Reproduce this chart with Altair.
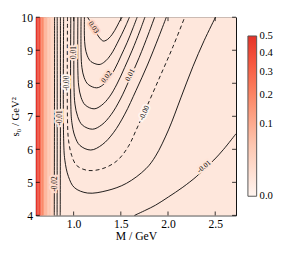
import altair as alt
import pandas as pd

# ---------------- axis ranges / ticks ----------------
M_MIN, M_MAX = 0.6, 2.72
S_MIN, S_MAX = 4.0, 10.0
X_TICKS = [1.0, 1.5, 2.0, 2.5]
Y_TICKS = [4, 5, 6, 7, 8, 9, 10]
# colour-bar ticks 0.0 ... 0.5 (end ticks nudged a hair inside so their labels stay centred)
CBAR_TICKS = [1e-7, 0.1, 0.2, 0.3, 0.4, 0.4999999]
# colour map (white -> red), evenly spaced along the sqrt-normalised value
CMAP = ["#fff5f0", "#fee2d5", "#fdc4ad", "#fca183", "#fb7d5d", "#f6573e", "#e53128"]

# ---------------- contour lines (M [GeV], s0 [GeV^2]) ----------------
L1_M = [0.798, 0.797, 0.795]; L1_S = [10.0, 7.0, 4.0]          # -0.02
L2_M = [0.826, 0.826, 0.825]; L2_S = [10.0, 7.0, 4.0]          # -0.015
L3_M = [0.860, 0.860, 0.858]; L3_S = [10.0, 7.0, 4.0]          # -0.01
U1_M = [1.148, 1.179, 1.210, 1.246, 1.277, 1.313, 1.344, 1.375, 1.406, 1.436, 1.467, 1.493, 1.514]
U1_S = [10.0, 9.853, 9.691, 9.500, 9.368, 9.279, 9.300, 9.368, 9.471, 9.603, 9.765, 9.912, 10.0]
U2_M = [1.114, 1.114, 1.122, 1.145, 1.184, 1.269, 1.317, 1.365, 1.414, 1.462, 1.510, 1.559, 1.591]
U2_S = [10.0, 9.450, 9.097, 8.832, 8.656, 8.568, 8.625, 8.754, 8.954, 9.212, 9.485, 9.785, 10.0]
U3_M = [1.079, 1.079, 1.088, 1.112, 1.154, 1.244, 1.309, 1.373, 1.437, 1.501, 1.566, 1.630, 1.673]
U3_S = [10.0, 8.882, 8.474, 8.168, 7.965, 7.862, 7.947, 8.140, 8.438, 8.824, 9.229, 9.679, 10.0]
U4_M = [1.045, 1.045, 1.054, 1.079, 1.123, 1.217, 1.298, 1.379, 1.459, 1.540, 1.621, 1.702, 1.755]
U4_S = [10.0, 8.374, 7.915, 7.571, 7.341, 7.226, 7.338, 7.588, 7.976, 8.474, 9.003, 9.585, 10.0]
U5_M = [1.004, 1.004, 1.014, 1.043, 1.092, 1.200, 1.299, 1.397, 1.496, 1.595, 1.694, 1.792, 1.858]
U5_S = [10.0, 7.879, 7.371, 6.991, 6.735, 6.609, 6.744, 7.050, 7.524, 8.135, 8.779, 9.491, 10.0]
U6_M = [0.970, 0.970, 0.981, 1.013, 1.066, 1.182, 1.303, 1.422, 1.542, 1.662, 1.782, 1.901, 1.982]
U6_S = [10.0, 7.376, 6.818, 6.397, 6.119, 5.979, 6.141, 6.503, 7.065, 7.788, 8.553, 9.397, 10.0]
U7_M = [0.935, 0.935, 0.946, 0.979, 1.031, 1.148, 1.303, 1.457, 1.580, 1.663, 1.766, 1.920, 2.054, 2.177]
U7_S = [10.0, 6.882, 6.274, 5.818, 5.515, 5.362, 5.412, 5.647, 6.088, 6.588, 7.235, 8.235, 9.118, 10.0]
U8_M = [0.894, 0.894, 0.907, 0.945, 1.008, 1.148, 1.354, 1.560, 1.766, 1.868, 2.005, 2.136, 2.263, 2.383, 2.503]
U8_S = [10.0, 6.335, 5.671, 5.174, 4.841, 4.676, 4.750, 4.971, 5.412, 5.794, 6.588, 7.559, 8.500, 9.294, 10.0]
LR_M = [1.645, 1.766, 1.868, 2.005, 2.157, 2.298, 2.383, 2.486, 2.589, 2.720]
LR_S = [4.0, 4.162, 4.309, 4.559, 4.853, 5.168, 5.397, 5.676, 6.0, 6.471]

# |value| shown by the colour in each region between contours
BASE_V = 0.0075
LEFT_BANDS = [("L3", 0.0125), ("L2", 0.0175), ("L1", 0.0225)]
LR_V = 0.0125
U_BANDS = [("U8", 0.0025), ("U7", 0.0025), ("U6", 0.0075), ("U5", 0.0125),
           ("U4", 0.0175), ("U3", 0.0225), ("U2", 0.0275), ("U1", 0.032)]
STRIP_EDGES = [0.600, 0.615, 0.630, 0.645, 0.660, 0.675, 0.690, 0.705, 0.720, 0.735, 0.750, 0.765, 0.780, 0.798]
STRIP_V = [0.50, 0.47, 0.40, 0.30, 0.20, 0.14, 0.10, 0.075, 0.058, 0.047, 0.039, 0.033, 0.028]

LAB_TEXT = ["0.03", "0.02", "0.01", "-0.00", "-0.01", "-0.02", "-0.01", "-0.00", "0.01"]
LAB_M = [1.210, 1.351, 1.600, 1.750, 2.383, 0.798, 0.860, 0.935, 1.004]
LAB_S = [9.69, 8.19, 8.25, 7.10, 5.47, 4.95, 6.95, 8.00, 8.93]
LAB_ANGLE = [57, 307, 297, 294, 320, 270, 270, 270, 270]
LAB_V = [0.03, 0.02, 0.01, 0.0, 0.01, 0.02, 0.01, 0.0, 0.01]

CURVES = {"L1": (L1_M, L1_S), "L2": (L2_M, L2_S), "L3": (L3_M, L3_S),
          "U1": (U1_M, U1_S), "U2": (U2_M, U2_S), "U3": (U3_M, U3_S), "U4": (U4_M, U4_S),
          "U5": (U5_M, U5_S), "U6": (U6_M, U6_S), "U7": (U7_M, U7_S), "U8": (U8_M, U8_S),
          "LR": (LR_M, LR_S)}
DASHED = ["U7"]

# ---------------- chart ----------------
W, H = 206, 204
FONT = "Liberation Serif"
SMOOTH = "catmull-rom"

xs = alt.Scale(domain=[M_MIN, M_MAX], nice=False, zero=False)
ys = alt.Scale(domain=[S_MIN, S_MAX], nice=False, zero=False)
cscale = alt.Scale(type="sqrt", domain=[0, 0.5], clamp=True, range=CMAP)
# halo scale: same mapping, kept as a separate (non-legend) scale
hscale = alt.Scale(type="sqrt", domain=[0, 0.50001], clamp=True, range=CMAP)

legend = alt.Legend(type="gradient", orient="none", legendX=218.3, legendY=19.3, direction="vertical",
                    gradientLength=165, gradientThickness=9, values=CBAR_TICKS, format=".1f",
                    labelFont=FONT, labelFontSize=11, labelColor="black", labelOffset=3,
                    labelOverlap=False, title=None, padding=0,
                    gradientStrokeColor="#555555", gradientStrokeWidth=1)
color = alt.Color("v:Q", scale=cscale, legend=legend)

X = lambda f: alt.X(f, type="quantitative", scale=xs,
                    axis=alt.Axis(values=X_TICKS, format=".1f", ticks=False, tickSize=0, domain=False,
                                  grid=False, labelFont=FONT, labelFontSize=12, labelColor="black",
                                  labelPadding=3, title="M / GeV", titleFont=FONT, titleFontSize=12,
                                  titleFontWeight="normal", titleColor="black", titlePadding=2))
Y = lambda f: alt.Y(f, type="quantitative", scale=ys,
                    axis=alt.Axis(values=Y_TICKS, format="d", ticks=False, tickSize=0, domain=False,
                                  grid=False, labelFont=FONT, labelFontSize=12, labelColor="black",
                                  labelPadding=3.5, title="s₀ / GeV²", titleFont=FONT, titleFontSize=11,
                                  titleFontWeight="normal", titleColor="black", titlePadding=0))


def curve_df(name):
    m, s = CURVES[name]
    return pd.DataFrame({"M": m, "S": s, "i": range(len(m)), "cid": name})


layers = []
base = pd.DataFrame({"m0": [M_MIN], "m1": [M_MAX], "s0": [S_MIN], "s1": [S_MAX], "v": [BASE_V]})
layers.append(alt.Chart(base).mark_rect().encode(x=X("m0"), x2="m1", y=Y("s0"), y2="s1", color=color))

for name, v in LEFT_BANDS:
    d = curve_df(name).assign(v=v, mlo=M_MIN)
    layers.append(alt.Chart(d).mark_area(orient="horizontal").encode(
        x=X("M"), x2="mlo", y=Y("S"), order="i:Q", color=color))

strip = pd.DataFrame({"m0": STRIP_EDGES[:-1], "m1": STRIP_EDGES[1:], "v": STRIP_V,
                      "s0": S_MIN, "s1": S_MAX})
layers.append(alt.Chart(strip).mark_rect(strokeWidth=0).encode(
    x=X("m0"), x2="m1", y=Y("s0"), y2="s1", color=color))

d = curve_df("LR").assign(v=LR_V, slo=S_MIN)
layers.append(alt.Chart(d).mark_area(interpolate=SMOOTH).encode(
    x=X("M"), y=Y("S"), y2="slo", order="i:Q", color=color))

for name, v in U_BANDS:
    d = curve_df(name).assign(v=v, shi=S_MAX)
    layers.append(alt.Chart(d).mark_area(interpolate=SMOOTH).encode(
        x=X("M"), y=Y("S"), y2="shi", order="i:Q", color=color))

solid = pd.concat([curve_df(n) for n in CURVES if n not in DASHED])
dashed = pd.concat([curve_df(n) for n in DASHED])
layers.append(alt.Chart(solid).mark_line(color="black", strokeWidth=0.9, interpolate=SMOOTH).encode(
    x=X("M"), y=Y("S"), detail="cid:N", order="i:Q"))
layers.append(alt.Chart(dashed).mark_line(color="black", strokeWidth=0.9, strokeDash=[4, 3],
                                          interpolate=SMOOTH).encode(
    x=X("M"), y=Y("S"), detail="cid:N", order="i:Q"))

labs = pd.DataFrame({"t": LAB_TEXT, "M": LAB_M, "S": LAB_S, "a": LAB_ANGLE, "v": LAB_V})
layers.append(alt.Chart(labs).mark_text(font=FONT, fontSize=7.5, strokeWidth=4, baseline="middle").encode(
    x=X("M"), y=Y("S"), text="t:N", angle=alt.Angle("a:Q", scale=None),
    stroke=alt.Stroke("v:Q", scale=hscale, legend=None)))
layers.append(alt.Chart(labs).mark_text(font=FONT, fontSize=7.5, color="black", baseline="middle").encode(
    x=X("M"), y=Y("S"), text="t:N", angle=alt.Angle("a:Q", scale=None)))

yt = pd.DataFrame({"t": Y_TICKS})
xt = pd.DataFrame({"t": X_TICKS})
layers.append(alt.Chart(yt).mark_rule(color="black", strokeWidth=0.8).encode(
    y=Y("t"), x=alt.value(0), x2=alt.value(4)))
layers.append(alt.Chart(yt).mark_rule(color="black", strokeWidth=0.8).encode(
    y=Y("t"), x=alt.value(W - 4), x2=alt.value(W)))
layers.append(alt.Chart(xt).mark_rule(color="black", strokeWidth=0.8).encode(
    x=X("t"), y=alt.value(H - 4), y2=alt.value(H)))
layers.append(alt.Chart(xt).mark_rule(color="black", strokeWidth=0.8).encode(
    x=X("t"), y=alt.value(0), y2=alt.value(4)))

chart = alt.layer(*layers).properties(
    width=W, height=H,
    autosize=alt.AutoSizeParams(type="none"),
    padding={"left": 28.7, "top": 6, "right": 44.3, "bottom": 27},
).configure_view(stroke="black", strokeWidth=1)

chart.save("out.html", embed_options={"renderer": "svg", "actions": False})
